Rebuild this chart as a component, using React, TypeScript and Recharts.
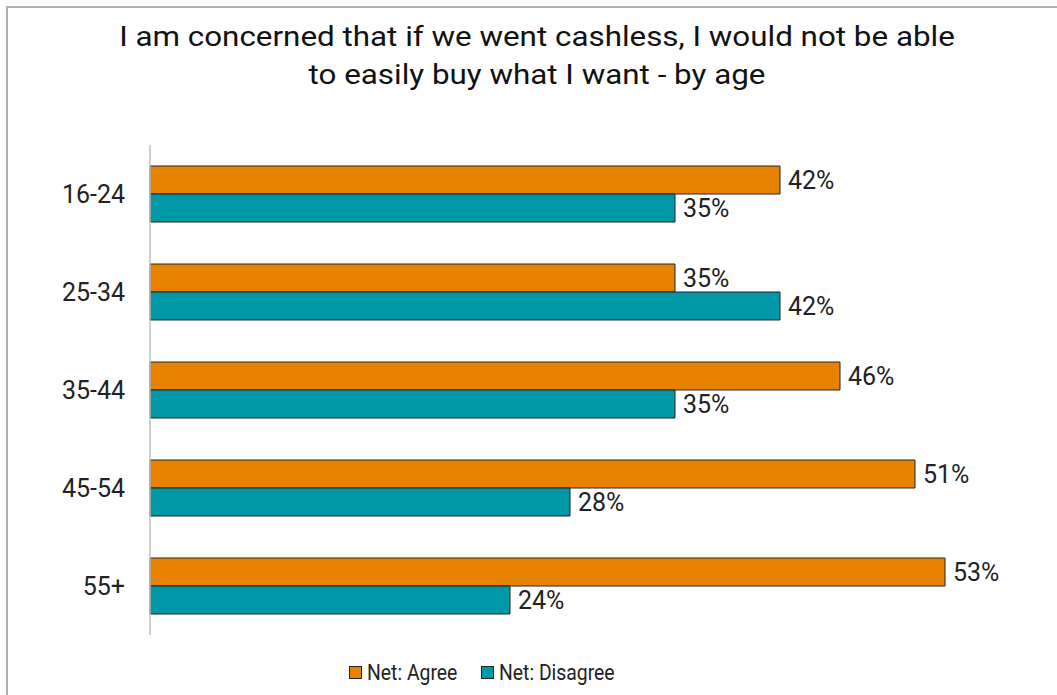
import React from "react";
import { BarChart, Bar, XAxis, YAxis, LabelList, Legend } from "recharts";

const categories = ["16-24", "25-34", "35-44", "45-54", "55+"];
const agreeValues = [42, 35, 46, 51, 53];
const disagreeValues = [35, 42, 35, 28, 24];
const seriesNames = ["Net: Agree", "Net: Disagree"];
const titleLines = [
  "I am concerned that if we went cashless, I would not be able",
  "to easily buy what I want - by age",
];

const ORANGE = "#E68200";
const TEAL = "#0097A7";
const FONT = "Roboto, 'Noto Sans', sans-serif";

const data = categories.map((c, i) => ({
  category: c,
  agree: agreeValues[i],
  disagree: disagreeValues[i],
}));

const renderLegend = (props: any) => {
  const payload = props.payload || [];
  return (
    <div
      style={{
        display: "flex",
        justifyContent: "flex-start",
        alignItems: "center",
        height: 30,
        fontFamily: FONT,
        fontSize: 22,
        color: "#222",
        paddingLeft: 349,
      }}
    >
      {payload.map((p: any, i: number) => (
        <div
          key={p.value}
          style={{ display: "flex", alignItems: "center", marginRight: i === 0 ? 11 : 0 }}
        >
          <span
            style={{
              display: "inline-block",
              width: 11,
              height: 11,
              background: p.color,
              border: "1px solid #222",
              marginRight: 5,
            }}
          />
          <span
            style={{
              display: "inline-block",
              transform: "scaleX(0.88)",
              transformOrigin: "0 50%",
              whiteSpace: "nowrap",
            }}
          >
            {p.value}
          </span>
        </div>
      ))}
    </div>
  );
};

export default function App() {
  return (
    <div
      style={{
        position: "absolute",
        left: 0,
        top: 0,
        width: 1057,
        height: 695,
        background: "#fff",
        overflow: "hidden",
      }}
    >
      <div
        style={{
          position: "absolute",
          left: 6,
          top: 6,
          width: 1100,
          height: 800,
          borderLeft: "2px solid #b0b0b0",
          borderTop: "2px solid #b0b0b0",
        }}
      />
      <div
        style={{
          position: "absolute",
          left: 0,
          top: 18,
          width: 1074,
          textAlign: "center",
          fontFamily: FONT,
          fontSize: 28,
          lineHeight: "38px",
          color: "#111",
          transform: "scaleX(1.12)",
          transformOrigin: "537px 0",
        }}
      >
        {titleLines.map((t) => (
          <div key={t}>{t}</div>
        ))}
      </div>
      <div style={{ position: "absolute", left: 0, top: 0 }}>
        <BarChart
          width={1057}
          height={695}
          data={data}
          layout="vertical"
          margin={{ top: 145, right: 7, bottom: 30, left: 0 }}
          barGap={0}
          barCategoryGap={21}
        >
          <XAxis type="number" domain={[0, 60]} hide />
          <YAxis
            type="category"
            dataKey="category"
            width={150}
            axisLine={{ stroke: "#c0c0c0", strokeWidth: 1.5 }}
            tickLine={false}
            tickSize={0}
            tickMargin={25}
            tick={{ fontSize: 25, fill: "#222", fontFamily: FONT }}
          />
          <Legend
            verticalAlign="bottom"
            align="left"
            content={renderLegend}
            wrapperStyle={{ height: 30, bottom: 8, left: 0, width: 1057 }}
          />
          <Bar
            dataKey="agree"
            name={seriesNames[0]}
            fill={ORANGE}
            stroke="#222"
            strokeWidth={1}
            barSize={28}
            isAnimationActive={false}
          >
            <LabelList
              dataKey="agree"
              position="right"
              offset={8}
              formatter={(v: any) => `${v}%`}
              style={{ fontSize: 25, fill: "#222", fontFamily: FONT }}
            />
          </Bar>
          <Bar
            dataKey="disagree"
            name={seriesNames[1]}
            fill={TEAL}
            stroke="#222"
            strokeWidth={1}
            barSize={28}
            isAnimationActive={false}
          >
            <LabelList
              dataKey="disagree"
              position="right"
              offset={8}
              formatter={(v: any) => `${v}%`}
              style={{ fontSize: 25, fill: "#222", fontFamily: FONT }}
            />
          </Bar>
        </BarChart>
      </div>
    </div>
  );
}
